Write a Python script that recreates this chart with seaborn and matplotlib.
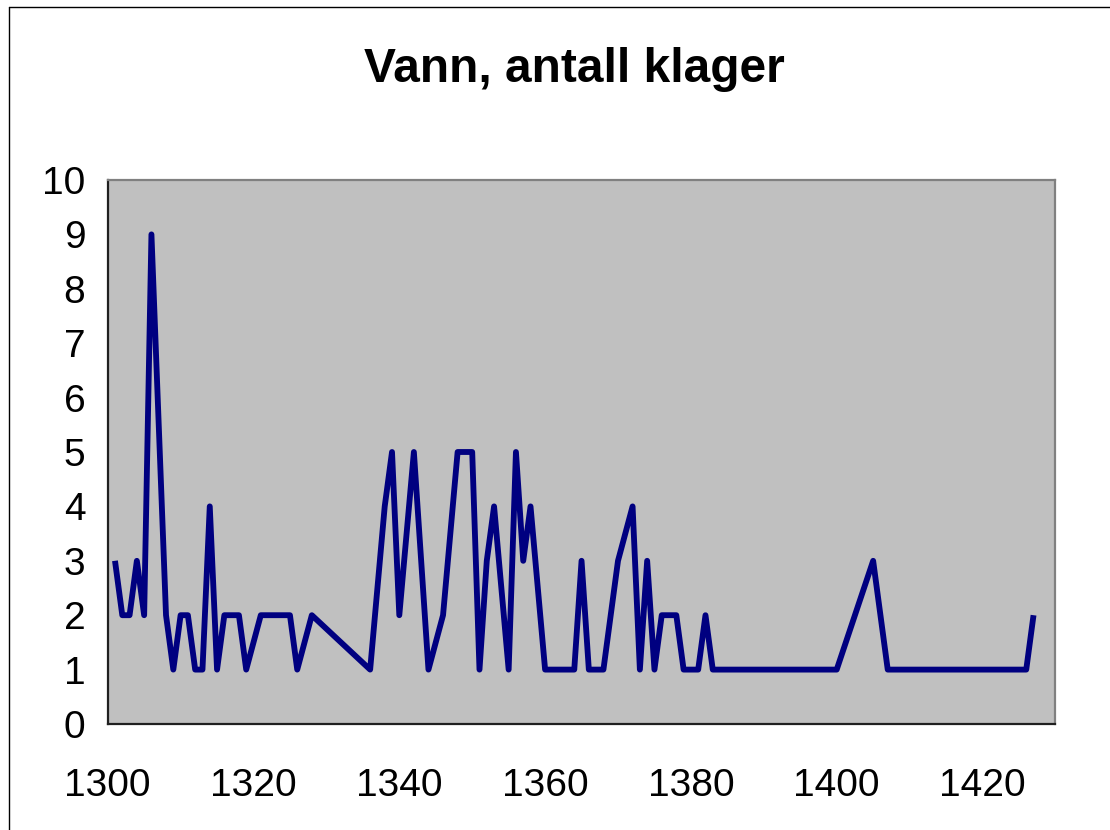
import matplotlib
matplotlib.use("Agg")
import matplotlib.pyplot as plt
from matplotlib.lines import Line2D
import seaborn as sns
import pandas as pd

# Data
years = [1301, 1302, 1303, 1304, 1305, 1306, 1308, 1309, 1310, 1311,
         1312, 1313, 1314, 1315, 1316, 1318, 1319, 1321, 1325, 1326,
         1328, 1336, 1338, 1339, 1340, 1342, 1344, 1346, 1348, 1350,
         1351, 1352, 1353, 1355, 1356, 1357, 1358, 1360, 1364, 1365,
         1366, 1368, 1370, 1372, 1373, 1374, 1375, 1376, 1378, 1379,
         1381, 1382, 1383, 1400, 1405, 1407, 1426, 1427]
klager = [3, 2, 2, 3, 2, 9, 2, 1, 2, 2,
          1, 1, 4, 1, 2, 2, 1, 2, 2, 1,
          2, 1, 4, 5, 2, 5, 1, 2, 5, 5,
          1, 3, 4, 1, 5, 3, 4, 1, 1, 3,
          1, 1, 3, 4, 1, 3, 1, 2, 2, 1,
          1, 2, 1, 1, 3, 1, 1, 2]
x_ticks = [1300, 1320, 1340, 1360, 1380, 1400, 1420]
y_ticks = list(range(0, 11))
title = "Vann, antall klager"

sns.set_style("white")
plt.rcParams['font.family'] = ['Liberation Sans', 'DejaVu Sans']
plt.rcParams['text.color'] = 'black'
plt.rcParams['xtick.labelcolor'] = 'black'
plt.rcParams['ytick.labelcolor'] = 'black'

df = pd.DataFrame({"year": years, "klager": klager})

fig = plt.figure(figsize=(11.1, 8.3), dpi=100)
fig.patch.set_facecolor("white")
ax = fig.add_axes([107.7 / 1110, 1 - 724 / 830, (1055.4 - 107.7) / 1110, (724 - 180) / 830])
ax.set_facecolor("#C0C0C0")

sns.lineplot(data=df, x="year", y="klager", ax=ax, color="#000080",
             linewidth=4.2, estimator=None, sort=False)
for ln in ax.lines:
    ln.set_solid_joinstyle("round")
    ln.set_solid_capstyle("butt")

ax.set_xlim(1300, 1430)
ax.set_ylim(0, 10)
ax.set_xticks(x_ticks)
ax.set_yticks(y_ticks)
ax.set_xlabel("")
ax.set_ylabel("")
ax.tick_params(axis="both", labelsize=28, length=12, width=1.2, direction="out",
               labelcolor="black")
ax.tick_params(axis="x", color="#606060", pad=20)
ax.tick_params(axis="y", color="#000000", pad=4)
ax.grid(False)

for side in ["left", "bottom"]:
    ax.spines[side].set_color("#202020")
    ax.spines[side].set_linewidth(1.6)
for side in ["top", "right"]:
    ax.spines[side].set_visible(True)
    ax.spines[side].set_color("#808080")
    ax.spines[side].set_linewidth(1.6)

fig.text(574 / 1110, 1 - 69 / 830, title, ha="center", va="center",
         fontsize=34.5, fontweight="bold", color="black")

# chart-area border (left and top edges visible)
fig.add_artist(Line2D([8.5 / 1110, 8.5 / 1110], [0, 1 - 7.5 / 830],
                      transform=fig.transFigure, color="black", linewidth=1))
fig.add_artist(Line2D([8.5 / 1110, 1], [1 - 7.5 / 830, 1 - 7.5 / 830],
                      transform=fig.transFigure, color="black", linewidth=1))

fig.savefig("out.png", dpi=100, facecolor="white")
